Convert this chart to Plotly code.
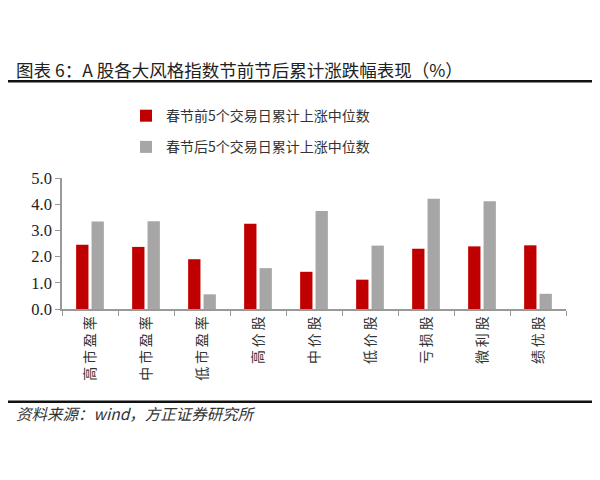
import plotly.graph_objects as go

categories = ["高市盈率", "中市盈率", "低市盈率", "高价股", "中价股", "低价股", "亏损股", "微利股", "绩优股"]
before_vals = [2.45, 2.37, 1.90, 3.25, 1.42, 1.12, 2.30, 2.39, 2.43]
after_vals = [3.34, 3.35, 0.56, 1.56, 3.74, 2.42, 4.21, 4.11, 0.58]
series_names = ["春节前5个交易日累计上涨中位数", "春节后5个交易日累计上涨中位数"]
y_ticks = [0, 1, 2, 3, 4, 5]
y_tick_labels = ["0.0", "1.0", "2.0", "3.0", "4.0", "5.0"]

# page body margin offsets the figure by 8px
OFF = 8
W, H = 600 - OFF, 480 - OFF
# plot area in screen pixels: x 62..566, y 177.5..309.5
L, T = 62 - OFF, 177.5 - OFF
pw, ph = 504, 132
R, B = W - L - pw, H - T - ph

def px_x(x):
    return (x - OFF - L) / pw

def px_y(y):
    return (T + ph - (y - OFF)) / ph

tick_text = ["\u2009".join(c) for c in categories]

fig = go.Figure()
fig.add_trace(go.Bar(x=categories, y=before_vals, name=series_names[0],
                     marker=dict(color="#C00000", line=dict(width=0)), legendgroup="a"))
fig.add_trace(go.Bar(x=categories, y=after_vals, name=series_names[1],
                     marker=dict(color="#A6A6A6", line=dict(width=0)), legendgroup="b"))

cjk = "Noto Sans CJK SC"
fig.update_layout(
    width=W, height=H,
    margin=dict(l=L, r=R, t=T, b=B, pad=0),
    paper_bgcolor="white", plot_bgcolor="white",
    barmode="group", bargap=0.45, bargroupgap=0.2,
    showlegend=True,
    legend=dict(x=px_x(126), y=px_y(99), xanchor="left", yanchor="top",
                font=dict(family=cjk, size=14, color="#333333"),
                tracegroupgap=10, traceorder="grouped",
                itemwidth=30, bgcolor="rgba(0,0,0,0)"),
    xaxis=dict(tickangle=-90, tickson="boundaries", ticks="outside", ticklen=5,
               tickcolor="#999999", showline=True, linecolor="#999999", linewidth=1.5,
               tickvals=categories, ticktext=tick_text,
               tickfont=dict(family=cjk, size=14, color="#333333"), showgrid=False),
    yaxis=dict(range=[0, 5], tickvals=y_ticks, ticktext=y_tick_labels, ticks="outside",
               ticklen=5, tickcolor="#999999", showline=True, linecolor="#999999",
               linewidth=1.5, showgrid=False, zeroline=False,
               tickfont=dict(family="Liberation Serif", size=16.5, color="#222222")),
    shapes=[
        dict(type="line", xref="paper", yref="paper", x0=px_x(3), x1=px_x(597),
             y0=px_y(80), y1=px_y(80), line=dict(color="#111111", width=2.5)),
        dict(type="line", xref="paper", yref="paper", x0=px_x(3), x1=px_x(597),
             y0=px_y(403), y1=px_y(403), line=dict(color="#111111", width=2.5)),
    ],
    annotations=[
        dict(text="图表 6：A 股各大风格指数节前节后累计涨跌幅表现（%）", xref="paper", yref="paper",
             x=px_x(14), y=px_y(68), xanchor="left", yanchor="middle", showarrow=False,
             font=dict(family=cjk, size=17.5, color="#222222")),
        dict(text="<i>资料来源：wind，方正证券研究所</i>", xref="paper", yref="paper",
             x=px_x(14), y=px_y(414), xanchor="left", yanchor="middle", showarrow=False,
             font=dict(family=cjk, size=15.5, color="#333333")),
    ],
)

fig.write_html("out.html")
